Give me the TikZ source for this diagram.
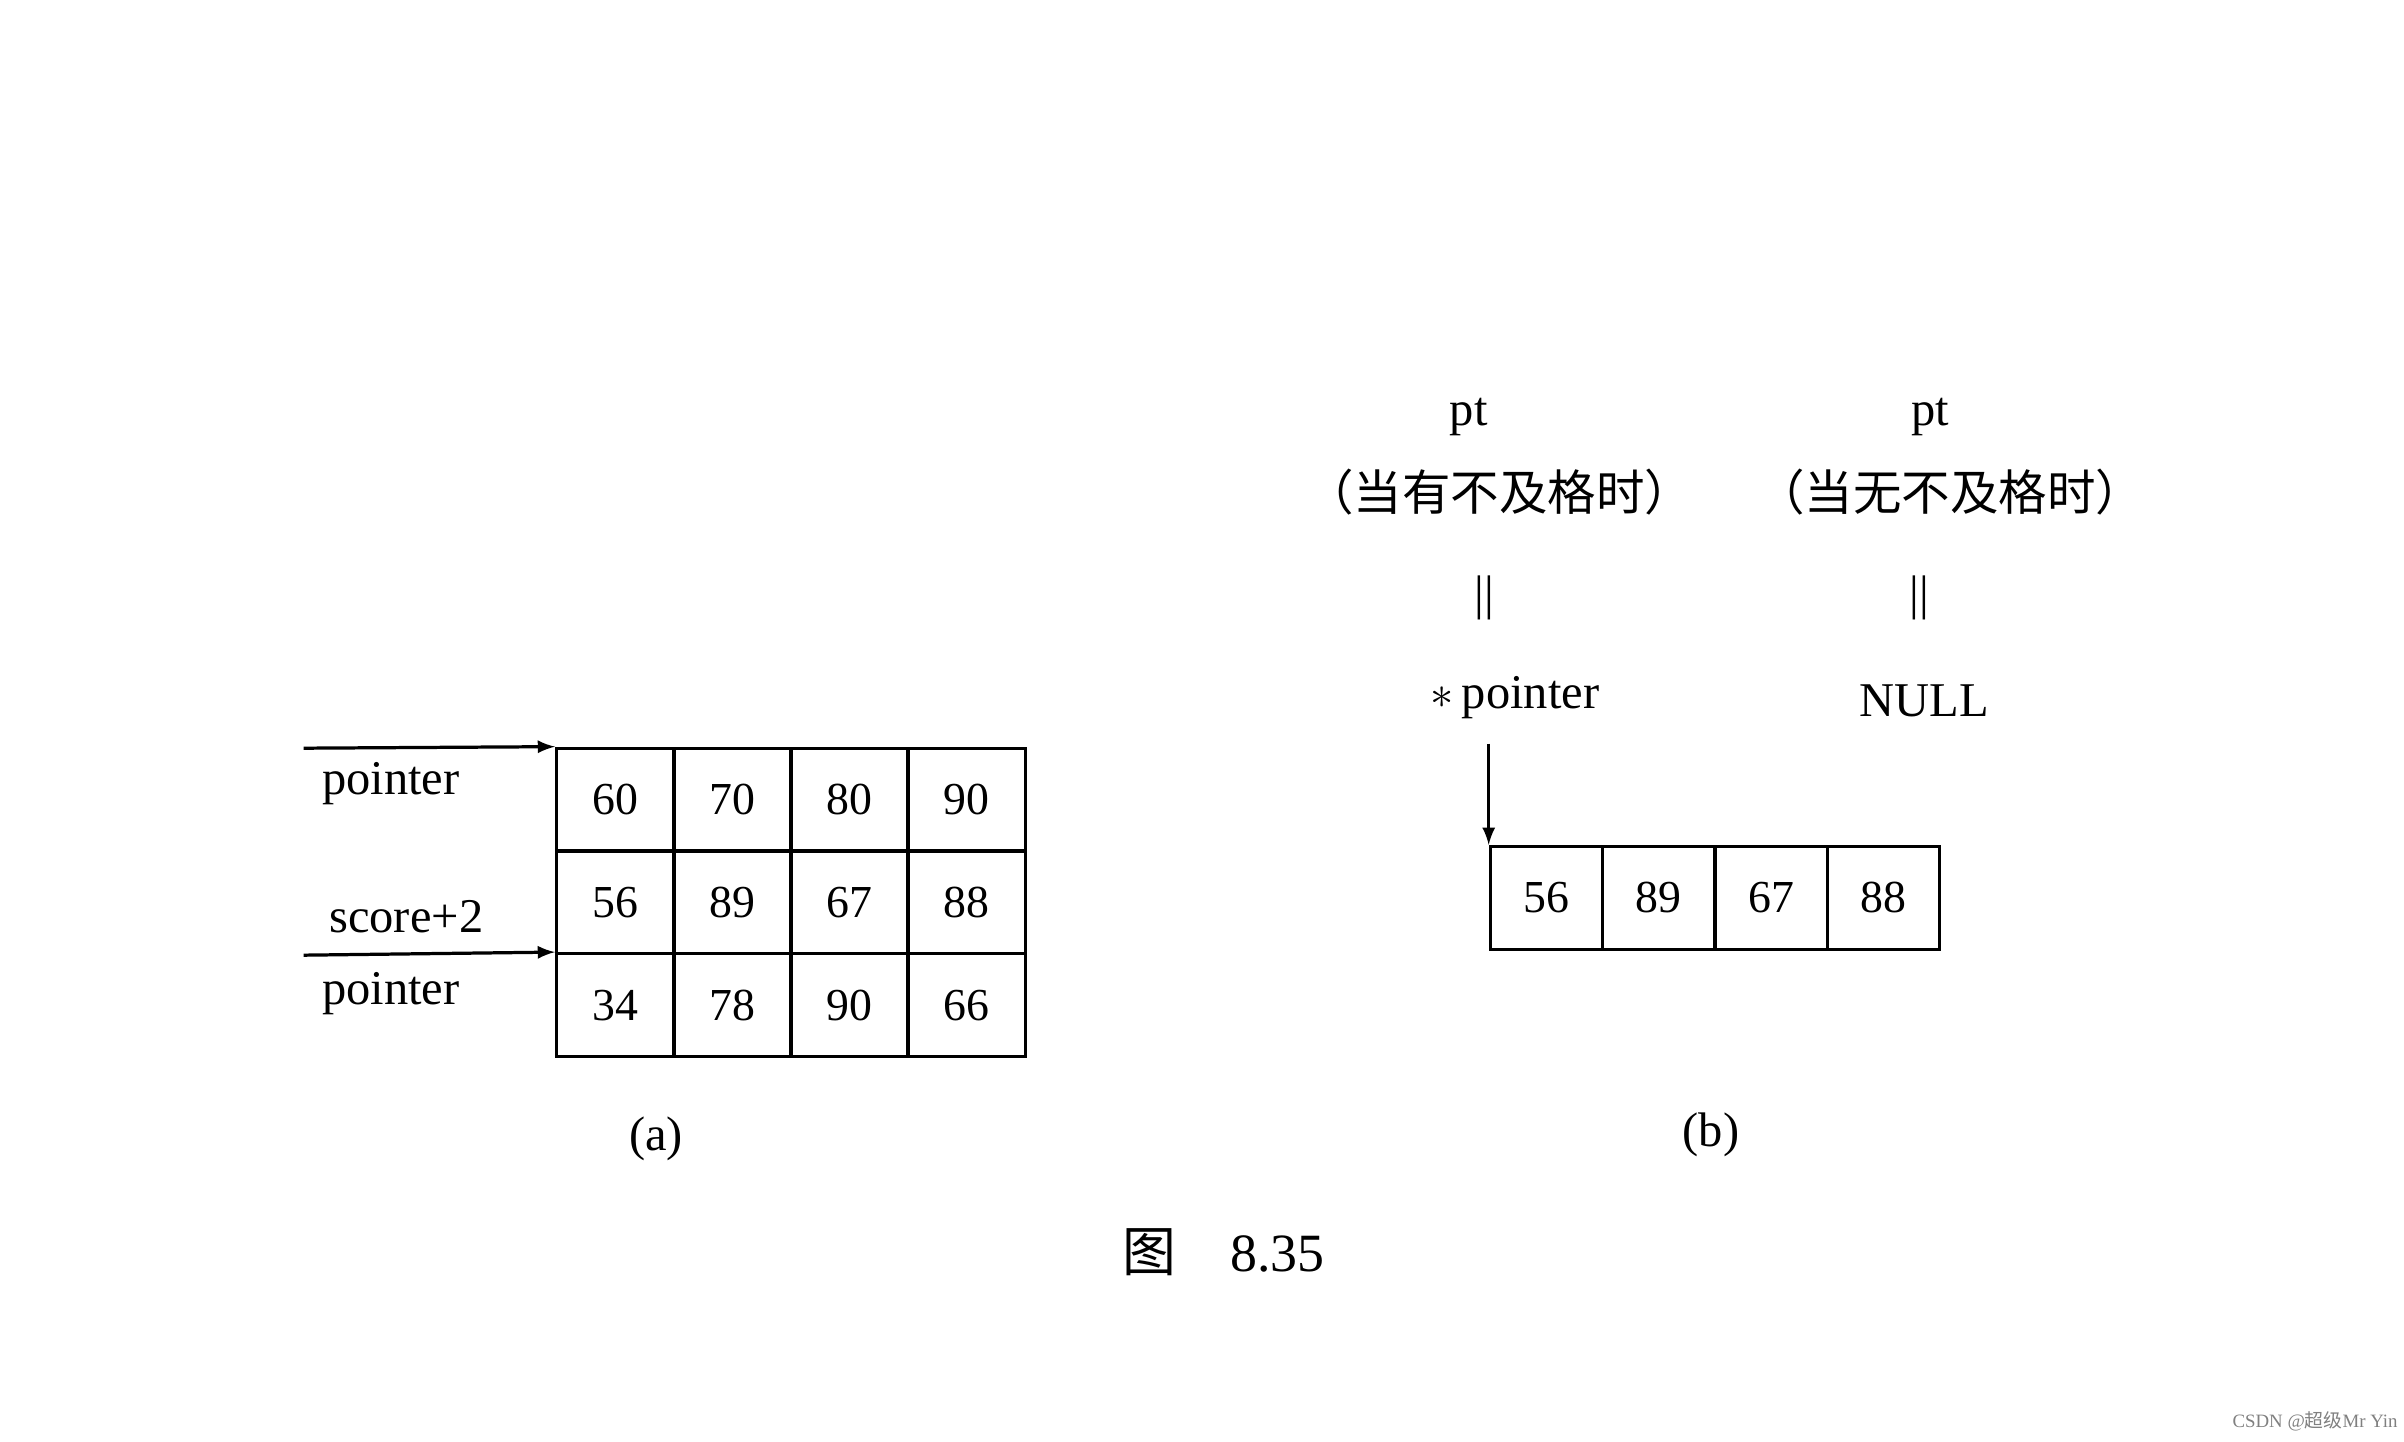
\documentclass[tikz,border=0pt]{standalone}
\usepackage{fontspec}
\setmainfont{Liberation Serif}
\newfontfamily\cjk{Noto Sans CJK SC}
\begin{document}
\begin{tikzpicture}[x=0.02cm,y=-0.02cm,
  cell/.style={draw,line width=1.2pt,minimum width=77*0.02cm,minimum height=67*0.02cm,inner sep=0pt,anchor=north west,font=\fontsize{17}{20}\selectfont},
  lbl/.style={font=\fontsize{18}{22}\selectfont},
  arr/.style={-latex,line width=1.2pt}]
\useasboundingbox (0,0) rectangle (1568,940);
% (a)
\foreach \r/\vals in {0/{60,70,80,90},1/{56,89,67,88},2/{34,78,90,66}}{
  \foreach \v [count=\c from 0] in \vals {
    \node[cell] (a\r\c) at (362+76.25*\c,487+67*\r) {\v};
  }}
\coordinate (s1) at (198,488);
\coordinate (s2) at (198,623);
\draw[arr] (s1) -- (a00.north west);
\draw[arr] (s2) -- (a20.north west);
\node[lbl] (p1) at (255,511) {pointer};
\node[lbl] (sc) at (265,598) {score+2};
\node[lbl] (p2) at (255,648) {pointer};
\node[lbl] (la) at (428,743) {(a)};
% (b)
\foreach \v [count=\c from 0] in {56,89,67,88}{
  \node[cell,minimum width=73.25*0.02cm] (b\c) at (971+73.25*\c,551) {\v};
}
\node[lbl] (pt1) at (958,272) {pt};
\node[lbl] (c1) at (978,321) {\cjk （当有不及格时）};
\node[lbl] (e1) at (968,390) {||};
\node[lbl] (sp) at (988,455) {$\ast$\,pointer};
\node[lbl] (pt2) at (1259,272) {pt};
\node[lbl] (c2) at (1272,321) {\cjk （当无不及格时）};
\node[lbl] (e2) at (1252,390) {||};
\node[lbl] (nl) at (1255,457) {NULL};
\coordinate (t) at (971,485);
\draw[arr] (t) -- (b0.north west);
\node[lbl] (lb) at (1116,740) {(b)};
\node[lbl,font=\fontsize{20}{24}\selectfont] (fig) at (798,817) {{\cjk 图}\quad 8.35};
\node[text=gray,font=\fontsize{7}{8}\selectfont] (wm) at (1510,927) {CSDN @{\cjk 超级}Mr Yin};
\end{tikzpicture}
\end{document}
